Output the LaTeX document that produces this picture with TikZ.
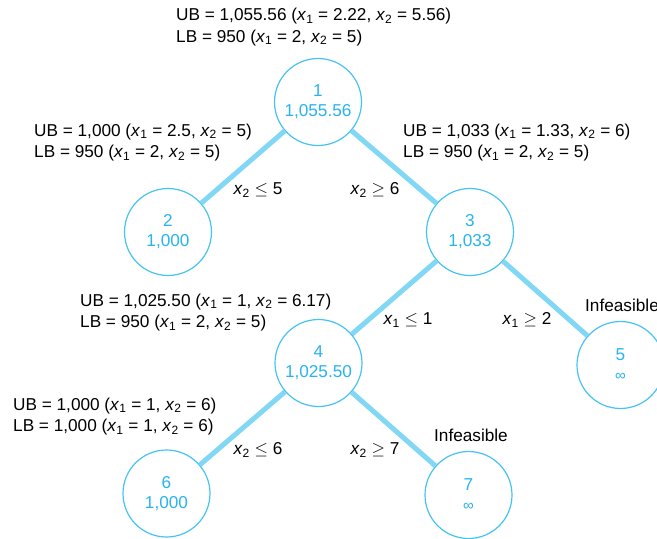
\documentclass[tikz,border=0pt]{standalone}
\usepackage{fontspec}
\setmainfont{Liberation Sans}
\definecolor{circ}{RGB}{70,195,245}
\definecolor{ctext}{RGB}{40,180,240}
\definecolor{edgec}{RGB}{130,215,245}
\newcommand\xone{\textit{x}\textsubscript{1}}
\newcommand\xtwo{\textit{x}\textsubscript{2}}
\begin{document}
\begin{tikzpicture}[x=1pt,y=-1pt,
  bnode/.style={circle,draw=circ,line width=1.2pt,fill=white,minimum size=87pt,inner sep=0pt,
    align=center,text=ctext,font=\fontsize{17.2}{20}\selectfont},
  info/.style={anchor=west,align=left,inner sep=0pt,font=\fontsize{17.2}{21.5}\selectfont},
  elabel/.style={inner sep=0pt,font=\fontsize{17.2}{20}\selectfont},
  edge/.style={draw=edgec,line width=5pt}]
\useasboundingbox (0,0) rectangle (657,539);
% nodes
\node[bnode] (n1) at (318,102) {1\\1,055.56};
\node[bnode] (n2) at (168,232) {2\\1,000};
\node[bnode] (n3) at (470,232) {3\\1,033};
\node[bnode] (n4) at (318.5,363) {4\\1,025.50};
\node[bnode] (n5) at (620.5,365) {5\\{\fontsize{15}{20}\selectfont ∞}};
\node[bnode] (n6) at (166.5,493.5) {6\\1,000};
\node[bnode] (n7) at (468.5,495) {7\\{\fontsize{15}{20}\selectfont ∞}};
% edges
\draw[edge] (n1) -- (n2);
\draw[edge] (n1) -- (n3);
\draw[edge] (n3) -- (n4);
\draw[edge] (n3) -- (n5);
\draw[edge] (n4) -- (n6);
\draw[edge] (n4) -- (n7);
% edge labels
\node[elabel] (l12) at (258,190) {\xtwo\ $\leq$ 5};
\node[elabel] (l13) at (375,190) {\xtwo\ $\geq$ 6};
\node[elabel] (l34) at (408,320) {\xone\ $\leq$ 1};
\node[elabel] (l35) at (527,320) {\xone\ $\geq$ 2};
\node[elabel] (l46) at (258,450) {\xtwo\ $\leq$ 6};
\node[elabel] (l47) at (375,450) {\xtwo\ $\geq$ 7};
\node[elabel,anchor=west] (inf5) at (585,305) {Infeasible};
\node[elabel] (inf7) at (471,435) {Infeasible};
% bound texts
\node[info] (b1) at (176,27) {UB = 1,055.56 (\xone\ = 2.22, \xtwo\ = 5.56)\\LB = 950 (\xone\ = 2, \xtwo\ = 5)};
\node[info] (b2) at (34,142.5) {UB = 1,000 (\xone\ = 2.5, \xtwo\ = 5)\\LB = 950 (\xone\ = 2, \xtwo\ = 5)};
\node[info] (b3) at (403,142.5) {UB = 1,033 (\xone\ = 1.33, \xtwo\ = 6)\\LB = 950 (\xone\ = 2, \xtwo\ = 5)};
\node[info] (b4) at (80,312.5) {UB = 1,025.50 (\xone\ = 1, \xtwo\ = 6.17)\\LB = 950 (\xone\ = 2, \xtwo\ = 5)};
\node[info] (b6) at (13,416.5) {UB = 1,000 (\xone\ = 1, \xtwo\ = 6)\\LB = 1,000 (\xone\ = 1, \xtwo\ = 6)};
\end{tikzpicture}
\end{document}
